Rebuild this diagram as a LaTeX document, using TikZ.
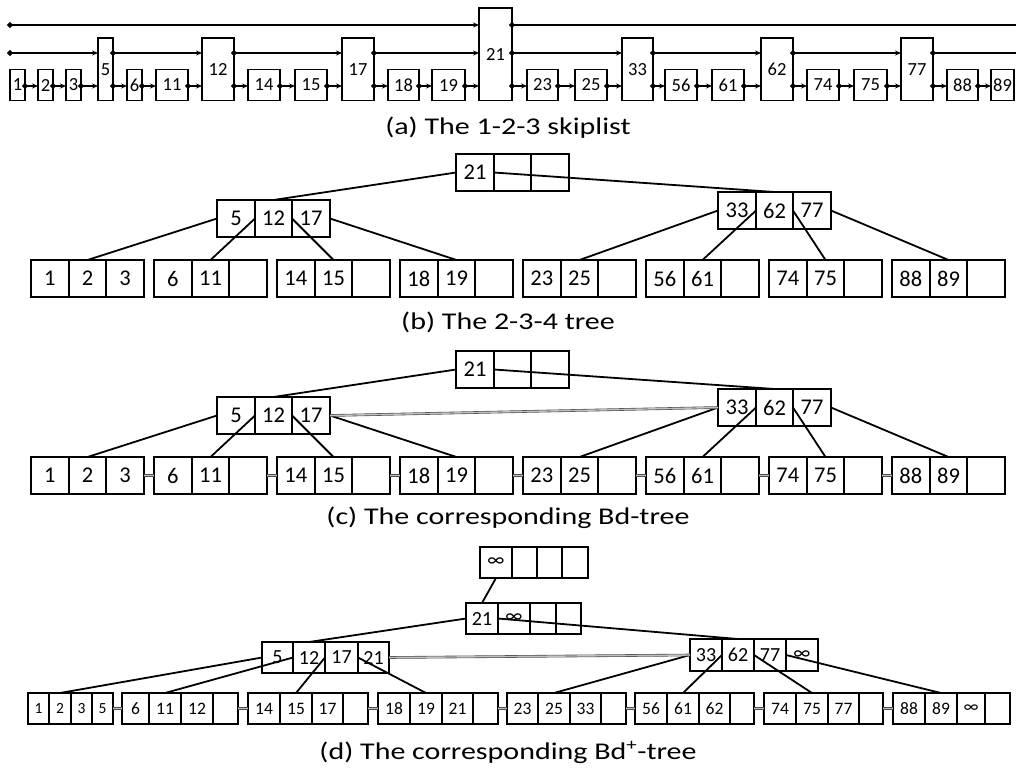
\documentclass[tikz,border=0pt]{standalone}
\usepackage{fontspec}
\setmainfont{Carlito}
\newfontfamily\capfont[FakeStretch=1.25]{Carlito}
\usetikzlibrary{arrows.meta}
\newcommand\cellrow[5]{% #1 prefix, #2 ytop, #3 ybot, #4 style, #5 list xl/xr/label/idx
  \foreach \xl/\xr/\lab/\i in {#5}{
    \node[#4, minimum width={(\xr)-(\xl)}, minimum height={(#3)-(#2)}] (#1\i) at ({((\xl)+(\xr))/2},{((#2)+(#3))/2}) {\lab};
  }}
\newcommand\leafthree[6]{% #1 name, #2 x0, #3 ytop, #4..#6 labels
  \cellrow{#1}{#3}{#3+37}{cellb}{#2/#2+37.7/#4/1, #2+37.7/#2+75.3/#5/2, #2+75.3/#2+113/#6/3}}
\newcommand\twothreefour[1]{%
  \cellrow{#1R}{154}{191}{cellb}{456/494/21/1, 494/531//2, 531/569//3}
  \cellrow{#1L}{200}{237}{cellb}{217/255/5/1, 255/292/12/2, 292/330/17/3}
  \cellrow{#1M}{192}{229}{cellb}{718/756/33/1, 756/793/62/2, 793/831/77/3}
  \leafthree{#1A}{31}{260}{1}{2}{3}
  \leafthree{#1B}{154}{260}{6}{11}{}
  \leafthree{#1C}{277}{260}{14}{15}{}
  \leafthree{#1D}{400}{260}{18}{19}{}
  \leafthree{#1E}{523}{260}{23}{25}{}
  \leafthree{#1F}{646}{260}{56}{61}{}
  \leafthree{#1G}{769}{260}{74}{75}{}
  \leafthree{#1H}{892}{260}{88}{89}{}
  \draw[edge] (#1R1.west) -- (#1L2.north);
  \draw[edge] (#1R1.east) -- (#1M2.north);
  \draw[edge] (#1L1.west) -- (#1A2.north);
  \draw[edge] (#1L1.east) -- (#1B2.north);
  \draw[edge] (#1L2.east) -- (#1C2.north);
  \draw[edge] (#1L3.east) -- (#1D2.north);
  \draw[edge] (#1M1.west) -- (#1E2.north);
  \draw[edge] (#1M1.east) -- (#1F2.north);
  \draw[edge] (#1M2.east) -- (#1G2.north);
  \draw[edge] (#1M3.east) -- (#1H2.north);
}
\begin{document}
\begin{tikzpicture}[x=1pt,y=-1pt,
  every node/.style={inner sep=0pt, outer sep=0pt},
  cellbase/.style={draw, line width=1.8pt, anchor=center},
  cella/.style={cellbase, font=\fontsize{18.5}{18.5}\selectfont},
  cellb/.style={cellbase, font=\fontsize{22.5}{22.5}\selectfont},
  celld/.style={cellbase, font=\fontsize{20}{20}\selectfont},
  cellleaf/.style={cellbase, font=\fontsize{17.5}{17.5}\selectfont},
  cellleafs/.style={cellbase, font=\fontsize{15.5}{15.5}\selectfont},
  edge/.style={line width=1.8pt},
  ptr/.style={line width=1.8pt, {Circle[length=5.5pt]}-{Stealth[length=6pt,width=5pt]}, shorten <=-2.75pt},
  ptrend/.style={line width=1.8pt, {Circle[length=5.5pt]}-, shorten <=-2.75pt},
  dbl/.style={draw=black!70, line width=0.6pt, double=gray!50, double distance=1.4pt},
  caption/.style={font=\capfont\fontsize{24}{24}\selectfont, anchor=center}]
\useasboundingbox (0,0) rectangle (1016,774);
% ---------- (a) skiplist ----------
\foreach \n/\xl/\xr/\yt/\lab in {s1/10/25/69.5/1, s2/38/53/69.5/2, s3/66/81/69.5/3, t5/98/113/38/5,
  s6/127/142/69.5/6, s11/156/188/69.5/11, t12/202/234/38/12, s14/248/280/69.5/14, s15/295/327/69.5/15,
  t17/342/374/38/17, s18/388/419/69.5/18, s19/432/465/69.5/19, t21/479/512/8/21, s23/527/558/69.5/23,
  s25/575/607/69.5/25, t33/622/653/38/33, s56/665/697/69.5/56, s61/712/744/69.5/61, t62/761/793/38/62,
  s74/807/839/69.5/74, s75/854/887/69.5/75, t77/901/933/38/77, s88/947/978/69.5/88, s89/991/1014/69.5/89}{
  \node[cella, minimum width={\xr-\xl}, minimum height={100.5-\yt}] (\n) at ({(\xl+\xr)/2},{(\yt+100.5)/2}) {\lab};
}
\coordinate (l1) at (0,86);
\coordinate (st2) at (10,53);
\coordinate (st3) at (10,25);
\coordinate (en2) at (1016,53);
\coordinate (en3) at (1016,25);
\foreach \a/\b in {s1/s2, s2/s3, s3/t5, t5/s6, s6/s11, s11/t12, t12/s14, s14/s15, s15/t17, t17/s18,
  s18/s19, s19/t21, t21/s23, s23/s25, s25/t33, t33/s56, s56/s61, s61/t62, t62/s74, s74/s75, s75/t77,
  t77/s88, s88/s89}{
  \draw[ptr] (\a.east |- l1) -- (\b.west |- l1);
}
\draw[ptr] (st2) -- (t5.west |- st2);
\foreach \a/\b in {t5/t12, t12/t17, t17/t21, t21/t33, t33/t62, t62/t77}{
  \draw[ptr] (\a.east |- st2) -- (\b.west |- st2);
}
\draw[ptrend] (t77.east |- st2) -- (en2);
\draw[ptr] (st3) -- (t21.west |- st3);
\draw[ptrend] (t21.east |- st3) -- (en3);
\node[caption] (capA) at (508,128) {(a) The 1-2-3 skiplist};
% ---------- (b) ----------
\twothreefour{b}
\node[caption] (capB) at (508,322) {(b) The 2-3-4 tree};
% ---------- (c) ----------
\begin{scope}[yshift=-197pt]
\twothreefour{c}
\end{scope}
\draw[dbl] (cL3.east) -- (cM1.west);
\foreach \a/\b in {A/B, B/C, C/D, D/E, E/F, F/G, G/H}{
  \draw[dbl] (c\a3.east) -- (c\b1.west);
}
\node[caption] (capC) at (508,518) {(c) The corresponding Bd-tree};
% ---------- (d) ----------
\cellrow{dT}{547}{578}{celld}{480/512/∞/1, 512/537//2, 537/562//3, 562/588//4}
\cellrow{dR}{603}{634}{celld}{466/498/21/1, 498/530/∞/2, 530/556//3, 556/581//4}
\cellrow{dL}{642}{673}{celld}{262/293/5/1, 293/325/12/2, 325/358/17/3, 358/389/21/4}
\cellrow{dM}{639}{671}{celld}{690/722/33/1, 722/754/62/2, 754/786/77/3, 786/818/∞/4}
\cellrow{dA}{693}{724}{cellleafs}{28/49/1/1, 49/71/2/2, 71/92/3/3, 92/113/5/4}
\cellrow{dB}{693}{724}{cellleaf}{122/149/6/1, 149/181/11/2, 181/213/12/3, 213/238//4}
\cellrow{dC}{693}{724}{cellleaf}{248/280/14/1, 280/312/15/2, 312/343/17/3, 343/368//4}
\cellrow{dD}{693}{724}{cellleaf}{378/410/18/1, 410/442/19/2, 442/473/21/3, 473/498//4}
\cellrow{dE}{693}{724}{cellleaf}{507/538/23/1, 538/570/25/2, 570/601/33/3, 601/626//4}
\cellrow{dF}{693}{724}{cellleaf}{635/667/56/1, 667/699/61/2, 699/730/62/3, 730/754//4}
\cellrow{dG}{693}{724}{cellleaf}{764/796/74/1, 796/828/75/2, 828/859/77/3, 859/883//4}
\cellrow{dH}{693}{724}{cellleaf}{893/925/88/1, 925/957/89/2, 957/985/∞/3, 985/1010//4}
\draw[edge] (dT1.south) -- (dR1.north);
\draw[edge] (dR1.west) -- (dL2.north);
\draw[edge] (dR1.east) -- (dM2.north);
\draw[edge] (dL1.west) -- (dA2.north);
\draw[edge] (dL1.east) -- (dB2.north);
\draw[edge] (dL2.east) -- (dC2.north);
\draw[edge] (dL3.east) -- (dD2.north);
\draw[edge] (dM1.west) -- (dE2.north);
\draw[edge] (dM1.east) -- (dF2.north);
\draw[edge] (dM2.east) -- (dG2.north);
\draw[edge] (dM3.east) -- (dH2.north);
\draw[dbl] (dL4.east) -- (dM1.west);
\foreach \a/\b in {A/B, B/C, C/D, D/E, E/F, F/G, G/H}{
  \draw[dbl] (d\a4.east) -- (d\b1.west);
}
\node[caption] (capD) at (508,752) {(d) The corresponding Bd\textsuperscript{+}-tree};
\end{tikzpicture}
\end{document}
